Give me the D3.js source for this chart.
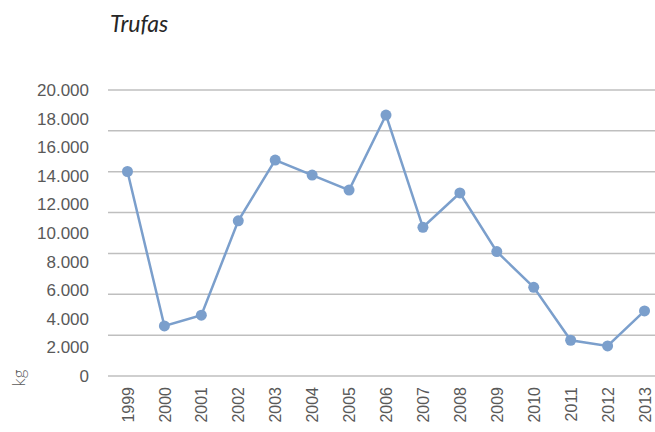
<!DOCTYPE html>
<html>
<head>
<meta charset="utf-8">
<script src="https://cdn.jsdelivr.net/npm/d3@7"></script>
<style>
  body { margin: 0; background: #fff; }
  svg { display: block; font-family: Lato, "Open Sans", sans-serif; }
  .grid line { stroke: #bfbfbf; stroke-width: 1.5; }
  .tick text { fill: #595959; }
</style>
</head>
<body>
<div id="chart"></div>
<script>
// data
var years  = ["1999","2000","2001","2002","2003","2004","2005","2006","2007","2008","2009","2010","2011","2012","2013"];
var values = [14300, 3500, 4250, 10850, 15100, 14050, 13000, 18250, 10400, 12800, 8700, 6200, 2500, 2100, 4550];
var yTicks = [0, 2000, 4000, 6000, 8000, 10000, 12000, 14000, 16000, 18000, 20000];
var gridCount = 7; // the gridlines don't sit on the labels in the original

var margin = {top: 90, left: 109, bottom: 56};
var width  = 655, height = 432;
var plotH  = height - margin.top - margin.bottom;
var plotW  = 554; // runs past the right edge, like the reference

var svg = d3.select("#chart").append("svg")
  .attr("width", width)
  .attr("height", height);

var plot = svg.append("g")
  .attr("transform", "translate(" + margin.left + "," + margin.top + ")");

var x = d3.scalePoint()
  .domain(years)
  .range([0, plotW])
  .padding(0.5);

var y = d3.scaleLinear()
  .domain([0, 20000])
  .range([plotH, 0]);

// gridlines
var gridVals = d3.range(gridCount + 1).map(i => i * 20000 / gridCount);
plot.append("g")
  .attr("class", "grid")
  .selectAll("line")
  .data(gridVals)
  .join("line")
  .attr("x1", -1)
  .attr("x2", width)
  .attr("y1", d => y(d))
  .attr("y2", d => y(d));

// y axis labels
var yAxis = d3.axisLeft(y)
  .tickValues(yTicks)
  .tickSize(0)
  .tickPadding(20)
  .tickFormat(d => d3.format(",")(d).replace(/,/g, "."));

plot.append("g")
  .call(yAxis)
  .call(g => g.select(".domain").remove())
  .selectAll("text")
  .style("font-size", "17px")
  .style("font-weight", 300);

// x axis labels
var xAxis = d3.axisBottom(x).tickSize(0).tickPadding(0);
plot.append("g")
  .attr("transform", "translate(0," + plotH + ")")
  .call(xAxis)
  .call(g => g.select(".domain").remove())
  .selectAll("text")
  .style("font-size", "16px")
  .style("font-weight", 300)
  .attr("text-anchor", "end")
  .attr("transform", "rotate(-90)")
  .attr("x", -11)
  .attr("y", 0)
  .attr("dy", "0.35em");

// line + markers
var line = d3.line()
  .x((d, i) => x(years[i]))
  .y(d => y(d));

plot.append("path")
  .datum(values)
  .attr("fill", "none")
  .attr("stroke", "#7b9fcc")
  .attr("stroke-width", 2.5)
  .attr("d", line);

plot.selectAll(".dot")
  .data(values)
  .join("circle")
  .attr("class", "dot")
  .attr("cx", (d, i) => x(years[i]))
  .attr("cy", d => y(d))
  .attr("r", 5.5)
  .attr("fill", "#7b9fcc");

// titles
svg.append("text")
  .attr("x", 110)
  .attr("y", 32)
  .style("font-size", "23px")
  .style("font-style", "italic")
  .attr("fill", "#262626")
  .text("Trufas");

svg.append("text")
  .attr("transform", "translate(25,378) rotate(-90)")
  .attr("text-anchor", "middle")
  .style("font-size", "17px")
  .style("font-weight", 300)
  .attr("fill", "#595959")
  .text("kg");
</script>
</body>
</html>
